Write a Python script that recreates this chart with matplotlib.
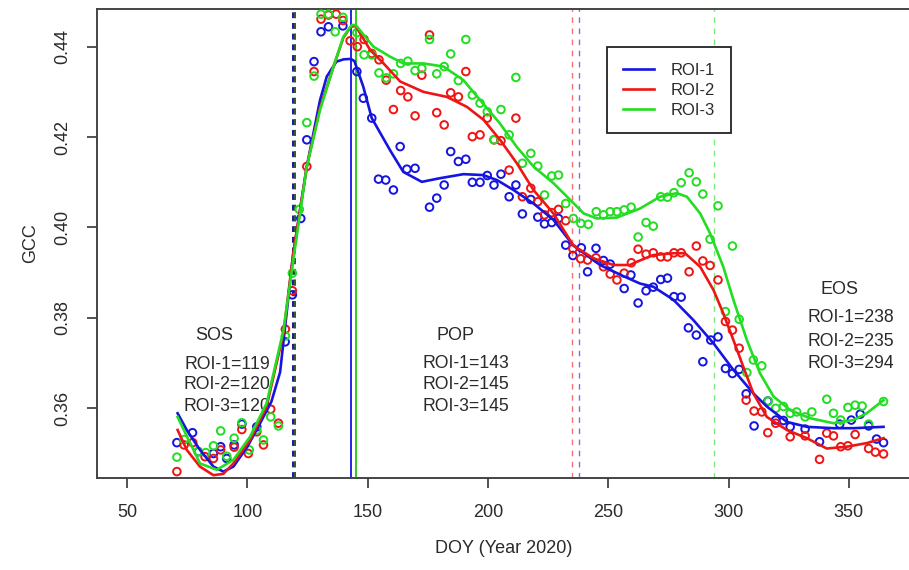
import matplotlib
matplotlib.use("Agg")
import matplotlib.pyplot as plt
from matplotlib.lines import Line2D

plt.rcParams['font.family'] = ['Liberation Sans', 'DejaVu Sans']

# ---------------- data ----------------
roi_names = ["ROI-1", "ROI-2", "ROI-3"]
colors = ["#1515e0", "#ee1515", "#22dd22"]

# observed points (DOY, GCC)
doy1 = [70.7, 77.2, 79.6, 85.9, 88.9, 91.4, 94.5, 97.7, 103.9, 115.7, 118.7, 122.2, 124.7, 127.7,
        130.6, 133.7, 139.7, 145.5, 148.2, 151.7, 154.5, 157.5, 160.7, 163.5, 166.3, 169.7, 175.7,
        178.7, 181.8, 184.5, 187.7, 190.8, 193.5, 196.7, 199.7, 202.5, 205.4, 208.8, 211.6, 214.3,
        217.8, 220.7, 223.5, 226.5, 229.3, 232.3, 235.3, 238.8, 241.4, 244.9, 248.0, 250.8, 256.6,
        259.4, 262.4, 265.7, 268.7, 271.8, 274.6, 277.3, 280.3, 283.3, 286.6, 289.3, 292.6, 295.6,
        298.7, 301.6, 304.4, 307.3, 310.6, 316.3, 319.6, 322.8, 325.6, 331.8, 337.8, 346.2, 351.0,
        354.7, 358.2, 361.5, 364.4]
gcc1 = [0.3524, 0.3546, 0.3504, 0.3500, 0.3515, 0.3489, 0.3519, 0.3565, 0.3559, 0.3747, 0.3851,
        0.4020, 0.4194, 0.4367, 0.4433, 0.4444, 0.4446, 0.4345, 0.4286, 0.4242, 0.4107, 0.4105,
        0.4083, 0.4179, 0.4129, 0.4131, 0.4045, 0.4065, 0.4094, 0.4168, 0.4146, 0.4151, 0.4100,
        0.4100, 0.4115, 0.4094, 0.4118, 0.4068, 0.4094, 0.4030, 0.4062, 0.4023, 0.4008, 0.4011,
        0.4020, 0.3961, 0.3938, 0.3955, 0.3902, 0.3954, 0.3927, 0.3919, 0.3865, 0.3895, 0.3833,
        0.3860, 0.3868, 0.3885, 0.3888, 0.3847, 0.3846, 0.3778, 0.3762, 0.3703, 0.3751, 0.3758,
        0.3688, 0.3677, 0.3686, 0.3632, 0.3561, 0.3616, 0.3574, 0.3573, 0.3559, 0.3554, 0.3526,
        0.3565, 0.3574, 0.3587, 0.3561, 0.3532, 0.3524]

doy2 = [70.7, 73.7, 77.3, 82.4, 85.9, 88.9, 94.5, 97.7, 100.4, 103.9, 106.7, 109.7, 112.9, 115.8,
        118.7, 124.7, 127.7, 130.6, 133.7, 136.9, 139.7, 142.7, 145.7, 148.5, 151.7, 154.7, 157.7,
        160.7, 163.7, 166.7, 169.7, 172.5, 175.7, 178.7, 181.8, 184.5, 187.7, 190.8, 193.5, 196.7,
        199.7, 202.5, 205.4, 208.8, 211.6, 214.3, 217.8, 220.7, 223.5, 226.5, 229.3, 232.3, 235.3,
        238.5, 241.4, 244.9, 248.0, 250.8, 253.6, 256.6, 259.6, 262.4, 265.7, 268.7, 271.8, 274.6,
        277.3, 280.3, 283.6, 286.6, 289.3, 292.3, 295.6, 298.7, 301.6, 304.4, 307.3, 310.6, 313.8,
        316.3, 319.6, 325.6, 331.8, 337.8, 340.8, 343.6, 346.6, 349.6, 352.6, 358.2, 361.0, 364.4]
gcc2 = [0.3460, 0.3519, 0.3524, 0.3493, 0.3489, 0.3508, 0.3514, 0.3553, 0.3500, 0.3548, 0.3519,
        0.3598, 0.3567, 0.3775, 0.3860, 0.4135, 0.4345, 0.4461, 0.4470, 0.4472, 0.4458, 0.4413,
        0.4400, 0.4416, 0.4385, 0.4371, 0.4326, 0.4261, 0.4303, 0.4289, 0.4247, 0.4337, 0.4426,
        0.4254, 0.4227, 0.4298, 0.4289, 0.4345, 0.4201, 0.4205, 0.4242, 0.4194, 0.4192, 0.4127,
        0.4242, 0.4068, 0.4087, 0.4057, 0.4028, 0.4033, 0.4040, 0.4015, 0.3953, 0.3931, 0.3928,
        0.3933, 0.3913, 0.3897, 0.3884, 0.3899, 0.3922, 0.3952, 0.3941, 0.3944, 0.3935, 0.3935,
        0.3944, 0.3944, 0.3902, 0.3959, 0.3926, 0.3916, 0.3884, 0.3792, 0.3773, 0.3733, 0.3618,
        0.3594, 0.3592, 0.3546, 0.3567, 0.3537, 0.3539, 0.3487, 0.3545, 0.3539, 0.3515, 0.3517,
        0.3542, 0.3511, 0.3503, 0.3499]

doy3 = [70.7, 73.7, 79.6, 82.7, 85.9, 88.9, 91.4, 94.5, 97.7, 100.8, 103.9, 106.7, 109.7, 112.9,
        115.8, 118.7, 121.6, 124.7, 127.7, 130.6, 133.7, 136.5, 139.7, 145.5, 148.5, 151.7, 154.7,
        157.7, 160.7, 163.7, 166.7, 169.7, 172.5, 175.7, 178.7, 181.8, 184.5, 187.7, 190.8, 193.5,
        196.7, 199.7, 202.5, 205.4, 208.8, 211.6, 214.3, 217.8, 220.7, 223.5, 226.5, 229.3, 232.3,
        235.5, 238.6, 241.7, 245.0, 248.0, 250.8, 253.6, 256.6, 259.5, 262.4, 265.7, 268.7, 271.8,
        274.6, 277.3, 280.3, 283.6, 286.6, 289.3, 292.3, 295.6, 298.7, 301.6, 304.4, 307.6, 310.3,
        313.8, 316.5, 319.6, 322.8, 325.6, 328.3, 331.8, 334.6, 340.8, 343.6, 346.6, 349.6, 352.6,
        355.5, 358.2, 364.4]
gcc3 = [0.3492, 0.3531, 0.3504, 0.3502, 0.3517, 0.3550, 0.3494, 0.3534, 0.3568, 0.3508, 0.3552,
        0.3530, 0.3581, 0.3561, 0.3760, 0.3899, 0.4040, 0.4232, 0.4335, 0.4472, 0.4472, 0.4433,
        0.4465, 0.4431, 0.4382, 0.4382, 0.4342, 0.4331, 0.4340, 0.4363, 0.4368, 0.4347, 0.4352,
        0.4416, 0.4340, 0.4356, 0.4384, 0.4325, 0.4416, 0.4293, 0.4275, 0.4256, 0.4194, 0.4261,
        0.4205, 0.4332, 0.4142, 0.4164, 0.4136, 0.4072, 0.4114, 0.4116, 0.4053, 0.4020, 0.4009,
        0.4007, 0.4035, 0.4028, 0.4035, 0.4035, 0.4039, 0.4045, 0.3979, 0.4011, 0.4003, 0.4068,
        0.4067, 0.4077, 0.4099, 0.4121, 0.4101, 0.4074, 0.3974, 0.4048, 0.3814, 0.3959, 0.3797,
        0.3679, 0.3707, 0.3694, 0.3616, 0.3600, 0.3604, 0.3589, 0.3592, 0.3581, 0.3592, 0.3620,
        0.3589, 0.3574, 0.3602, 0.3607, 0.3605, 0.3565, 0.3615]

# fitted (smoothed) curves
fit_doy1 = [71, 74.8, 80.3, 85.9, 90, 94.2, 100, 105.3, 110, 113.6, 119, 124.7, 130.2, 133, 137,
            140, 143, 144.5, 148.2, 151.7, 159.3, 164.8, 172.5, 180, 189.8, 198, 203.7, 210.6,
            218.9, 227.2, 235.5, 246.6, 256, 263.2, 268.7, 277.1, 285.4, 293.7, 302, 310.3, 315.9,
            324.2, 332.5, 343.6, 351.9, 364.4]
fit_gcc1 = [0.3589, 0.3552, 0.3508, 0.3471, 0.3460, 0.3471, 0.3515, 0.3567, 0.3615, 0.3680, 0.3940,
            0.4135, 0.4282, 0.4334, 0.4367, 0.4372, 0.4373, 0.4368, 0.4311, 0.4242, 0.4171, 0.4123,
            0.4101, 0.4109, 0.4118, 0.4116, 0.4105, 0.4083, 0.4053, 0.4017, 0.3960, 0.3917, 0.3893,
            0.3876, 0.3869, 0.3840, 0.3795, 0.3744, 0.3685, 0.3633, 0.3604, 0.3570, 0.3559, 0.3556,
            0.3556, 0.3559]

fit_doy2 = [71, 74.8, 80.3, 85.9, 90, 94.2, 101.1, 108, 115, 119, 124.7, 130.2, 135.8, 139.9, 143,
            145, 151, 156.6, 163.5, 173.2, 182.9, 191.2, 198.2, 205, 212, 218.9, 227.2, 235.5,
            243.8, 252.2, 259, 261.8, 268.7, 277.1, 281.9, 288.2, 293.7, 297.8, 302, 306.1, 310.3,
            315.9, 324.2, 332.5, 340.8, 349.1, 357.4, 364.4]
fit_gcc2 = [0.3552, 0.3508, 0.3471, 0.3452, 0.3455, 0.3478, 0.3530, 0.3604, 0.3766, 0.3940, 0.4135,
            0.4265, 0.4356, 0.4420, 0.4444, 0.4446, 0.4393, 0.4363, 0.4323, 0.4300, 0.4289, 0.4267,
            0.4238, 0.4194, 0.4142, 0.4083, 0.4031, 0.3960, 0.3932, 0.3917, 0.3917, 0.3924, 0.3939,
            0.3943, 0.3943, 0.3913, 0.3862, 0.3810, 0.3751, 0.3692, 0.3633, 0.3581, 0.3552, 0.3534,
            0.3511, 0.3515, 0.3523, 0.3534]

fit_doy3 = [71, 80.3, 87.3, 94.2, 101.1, 108, 115, 119.1, 124.7, 130.2, 135.8, 139.9, 143.4, 145,
            152.4, 159.3, 164.8, 173.2, 181.5, 189.8, 196.7, 205, 212, 218.9, 227.2, 234.2, 239.8,
            245.3, 253.6, 263.2, 271.5, 278.5, 282.7, 288.2, 292.3, 297.8, 302, 307.6, 313.1, 318.7,
            325.6, 333.9, 343.6, 351.9, 357.4, 364.4]
fit_gcc3 = [0.3581, 0.3478, 0.3464, 0.3486, 0.3537, 0.3611, 0.3773, 0.3928, 0.4135, 0.4260, 0.4356,
            0.4422, 0.4448, 0.4448, 0.4400, 0.4378, 0.4363, 0.4363, 0.4356, 0.4326, 0.4282, 0.4230,
            0.4178, 0.4135, 0.4098, 0.4061, 0.4031, 0.4020, 0.4022, 0.4042, 0.4068, 0.4076, 0.4068,
            0.4031, 0.3987, 0.3913, 0.3840, 0.3751, 0.3677, 0.3626, 0.3596, 0.3578, 0.3567, 0.3574,
            0.3589, 0.3618]

sos = [119, 120, 120]
pop = [143, 145, 145]
eos = [238, 235, 294]

x_ticks = [50, 100, 150, 200, 250, 300, 350]
y_ticks = [0.36, 0.38, 0.40, 0.42, 0.44]

# ---------------- figure ----------------
W, H = 909, 570
fig = plt.figure(figsize=(W / 100, H / 100), dpi=100)
ax = fig.add_axes([97 / W, 92 / H, 813 / W, 469 / H])
ax.set_xlim(37.5, 375.4)
ax.set_ylim(0.34458, 0.44834)

txt = "#2a2a2a"
for s in ["left", "top", "bottom"]:
    ax.spines[s].set_color("#444444")
    ax.spines[s].set_linewidth(1.4)
ax.spines["right"].set_visible(False)

pts = [(doy1, gcc1), (doy2, gcc2), (doy3, gcc3)]
fits = [(fit_doy1, fit_gcc1), (fit_doy2, fit_gcc2), (fit_doy3, fit_gcc3)]

for (d, g), c in zip(pts, colors):
    ax.scatter(d, g, s=30, facecolors="none", edgecolors=c, linewidths=1.4, zorder=3)
for (d, g), c in zip(fits, colors):
    ax.plot(d, g, color=c, lw=1.9, zorder=4)

sos_colors = ["#1a1a8a", "#1a1a8a", "#3a5a3a"]
for v, c in zip(sos, sos_colors):
    ax.axvline(v, color=c, lw=1.4, ls=(0, (3, 2.5)), zorder=2)
for v, c in zip(pop, colors):
    ax.axvline(v, color=c, lw=1.3, zorder=2)
for v, c in zip(eos, colors):
    ax.axvline(v, color=c, lw=1.0, ls=(0, (4, 4)), alpha=0.6, zorder=2)

ax.set_xticks(x_ticks)
ax.set_xticklabels([str(v) for v in x_ticks])
ax.set_yticks(y_ticks)
ax.set_yticklabels([f"{v:.2f}" for v in y_ticks], rotation=90, va="center")
ax.tick_params(axis="both", direction="out", length=7.5, width=1.3, color="#444444",
               labelsize=13, labelcolor=txt)
ax.tick_params(axis="y", pad=11)
ax.tick_params(axis="x", pad=11)

ax.set_xlabel("DOY (Year 2020)", fontsize=13, color=txt, labelpad=14)
ax.set_ylabel("GCC", fontsize=13, color=txt, labelpad=11)

fs = 12.7
def block(x_head, y_head, head, x_lines, ys, vals):
    ax.text(x_head, y_head, head, ha="center", va="center", fontsize=fs + 0.3, color=txt)
    for y, name, v in zip(ys, roi_names, vals):
        ax.text(x_lines, y, f"{name}={v}", ha="center", va="center", fontsize=fs, color=txt)

block(86.2, 0.3762, "SOS", 91.6, [0.3698, 0.3652, 0.3603], sos)
block(186.3, 0.3762, "POP", 190.9, [0.3700, 0.3652, 0.3603], pop)
block(345.9, 0.3862, "EOS", 350.9, [0.3800, 0.3747, 0.3700], eos)

handles = [Line2D([], [], color=c, lw=1.9) for c in colors]
leg = ax.legend(handles, roi_names, loc="upper left",
                bbox_to_anchor=((606.7 - 97) / 813, (478 - 46.7) / 469),
                borderaxespad=0, fontsize=12, handlelength=1.9, handletextpad=1.0,
                labelspacing=0.3, borderpad=0.95, fancybox=False, framealpha=1,
                edgecolor="#222222")
leg.get_frame().set_linewidth(1.3)
for t in leg.get_texts():
    t.set_color(txt)

fig.savefig("out.png", dpi=100)
